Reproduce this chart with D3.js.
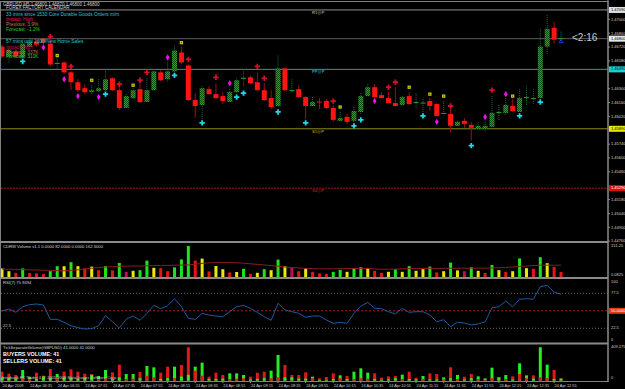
<!DOCTYPE html>
<html>
<head>
<meta charset="utf-8">
<script src="https://d3js.org/d3.v7.min.js"></script>
<style>
body { margin: 0; background: #000; }
svg { display: block; font-family: "Liberation Sans", Arial, sans-serif; }
</style>
</head>
<body>
<svg id="chart" width="625" height="389"></svg>
<script>
// GBPUSD M5, 24 Apr 2009, 06:15 .. 13:00 (82 bars)
var barOpen = [1.4672,1.4662,1.4667,1.4661,1.4672,1.4677,1.4680,1.4675,1.4654,1.4656,
  1.4646,1.4636,1.4630,1.4626,1.4627,1.4628,1.4640,1.4628,1.4610,1.4620,
  1.4629,1.4616,1.4628,1.4646,1.4639,1.4647,1.4666,1.4653,1.4618,1.4613,
  1.4629,1.4624,1.4622,1.4616,1.4626,1.4639,1.4641,1.4636,1.4628,1.4620,
  1.4612,1.4650,1.4627,1.4629,1.4621,1.4612,1.4617,1.4617,1.4610,1.4597,
  1.4601,1.4597,1.4606,1.4622,1.4631,1.4623,1.4620,1.4615,1.4613,1.4622,
  1.4615,1.4615,1.4617,1.4614,1.4604,1.4604,1.4592,1.4597,1.4593,1.4589,
  1.4589,1.4591,1.4605,1.4605,1.4612,1.4606,1.4620,1.4619,1.4620,1.4672,
  1.4691,1.4680];
var barHigh = [1.4674,1.4671,1.4669,1.4679,1.4681,1.4679,1.4681,1.4679,1.4661,1.4657,
  1.4647,1.4639,1.4634,1.4633,1.4639,1.4649,1.4641,1.4634,1.4624,1.4630,
  1.4639,1.4640,1.4649,1.4648,1.4656,1.4673,1.4672,1.4654,1.4625,1.4632,
  1.4632,1.4635,1.4626,1.4629,1.4640,1.4647,1.4643,1.4646,1.4635,1.4628,
  1.4663,1.4651,1.4639,1.4633,1.4622,1.4621,1.4620,1.4619,1.4613,1.4606,
  1.4604,1.4611,1.4625,1.4634,1.4634,1.4626,1.4626,1.4631,1.4622,1.4626,
  1.4625,1.4619,1.4620,1.4615,1.4617,1.4609,1.4597,1.4600,1.4596,1.4596,
  1.4596,1.4622,1.4613,1.4620,1.4619,1.4629,1.4632,1.4629,1.4690,1.4704,
  1.4697,1.4687];
var barLow = [1.4660,1.4656,1.4661,1.4659,1.4671,1.4672,1.4674,1.4652,1.4649,1.4644,
  1.4628,1.4626,1.4624,1.4624,1.4626,1.4627,1.4627,1.4608,1.4610,1.4619,
  1.4615,1.4616,1.4627,1.4637,1.4636,1.4646,1.4654,1.4617,1.4600,1.4599,
  1.4623,1.4619,1.4614,1.4615,1.4625,1.4631,1.4634,1.4627,1.4617,1.4609,
  1.4611,1.4627,1.4626,1.4620,1.4599,1.4611,1.4609,1.4609,1.4596,1.4596,
  1.4594,1.4596,1.4604,1.4622,1.4620,1.4620,1.4615,1.4612,1.4613,1.4613,
  1.4609,1.4606,1.4607,1.4602,1.4604,1.4586,1.4591,1.4590,1.4577,1.4588,
  1.4586,1.4590,1.4597,1.4602,1.4606,1.4606,1.4613,1.4613,1.4619,1.4665,
  1.4675,1.4678];
var barClose = [1.4662,1.4669,1.4662,1.4675,1.4677,1.4674,1.4676,1.4654,1.4656,1.4646,
  1.4636,1.4628,1.4626,1.4628,1.4630,1.4639,1.4628,1.4610,1.4622,1.4628,
  1.4616,1.4628,1.4647,1.4638,1.4647,1.4668,1.4656,1.4618,1.4612,1.4630,
  1.4624,1.4620,1.4617,1.4626,1.4638,1.4641,1.4635,1.4628,1.4618,1.4611,
  1.4650,1.4628,1.4628,1.4621,1.4612,1.4616,1.4615,1.4610,1.4598,1.4600,
  1.4596,1.4607,1.4622,1.4631,1.4621,1.4620,1.4615,1.4612,1.4621,1.4614,
  1.4616,1.4615,1.4612,1.4602,1.4605,1.4592,1.4596,1.4594,1.4590,1.4592,
  1.4592,1.4605,1.4606,1.4613,1.4607,1.4620,1.4621,1.4620,1.4672,1.4690,
  1.4679,1.4680];

// signal marks: [bar, price]
var redMarks = [[7,1.4682],[10,1.4652],[17,1.4634],[20,1.4638],[21,1.4646],[27,1.4659],[31,1.4641],
  [37,1.4652],[38,1.4640],[48,1.4617],[56,1.4631],[57,1.4636],[65,1.4612],[71,1.4628]];
var magentaMarks = [[6,1.4671],[9,1.4639],[11,1.4622],[14,1.4621],[24,1.4661],[33,1.4635],
  [54,1.4617],[63,1.4596],[70,1.4601],[73,1.4624]];
var yellowMarks = [[8,1.4663],[13,1.4638],[19,1.4633],[26,1.4676],[49,1.4611],[59,1.4631],
  [62,1.4624],[64,1.4622],[74,1.4622]];
var cyanMarks = [[3,1.4657],[15,1.4624],[25,1.4643],[29,1.4595],[34,1.4621],[35,1.4625],[40,1.4606],
  [44,1.4595],[51,1.4592],[52,1.4598],[61,1.4602],[68,1.4572],[75,1.4602],[78,1.4616]];

var pivotNames = ["R1@P", "PP@P", "S1@P", "S2@P"];
var pivotValues = [1.4709, 1.4649, 1.4589, 1.4529];
var bidPrice = 1.4680;

var priceTicks = [1.4714,1.4700,1.4686,1.4672,1.4658,1.4644,1.4630,1.4616,1.4602,
  1.4588,1.4574,1.4560,1.4546,1.4532,1.4518,1.4504,1.4490,1.4476];

// CDRW volume
var volume = [43,29,21,43,20,18,16,29,54,54,
  74,54,43,52,34,55,33,70,25,31,
  34,82,46,44,29,48,88,155,82,92,
  28,55,39,23,25,41,16,21,39,34,
  87,54,49,29,43,26,18,16,26,36,
  26,43,49,44,31,21,26,39,26,54,
  31,39,52,23,29,72,33,29,49,31,
  20,60,34,26,29,93,44,41,99,69,
  50,25];
var volColor = ("YYRGRRRGGY" + "GYRYRGRGCY" + "GGYRRGGGRY" + "RYYRYGRYGY" + "GYCRYRRRGG" +
  "YGGYRRYGYG" + "YYGRYGYCGY" + "RGYRYGYRGY" + "RR").split("");
var volMA = [40,39,38,37,36,35,34,33,32,31,
  33,36,40,44,47,50,52,54,54,55,
  55,56,57,58,58,59,60,60,64,68,
  71,72,72,72,71,69,66,63,60,57,
  54,50,47,45,43,42,41,41,41,42,
  42,43,43,43,40,39,39,39,41,42,
  43,43,43,43,43,44,44,44,44,44,
  44,45,46,48,50,53,55,57,59,59,
  59,59];

// RSI(7)
var rsi = [49.7,52.8,47.6,56.4,59.6,60.7,59.1,36.6,36.6,31.9,
  26.6,23.4,21.4,21.9,26.6,42.3,32.9,23.0,36.6,41.8,
  35.0,46.0,58.6,53.3,58.0,69.0,56.4,38.2,36.6,46.0,
  43.4,41.8,40.7,48.6,56.4,58.6,53.9,47.6,40.7,35.0,
  61.8,51.3,48.6,46.0,39.8,41.8,41.8,35.5,30.3,31.9,
  30.3,46.0,57.5,63.4,53.9,53.3,48.6,45.0,53.9,47.6,
  48.6,48.6,43.4,32.9,35.9,25.0,31.9,30.8,27.7,29.3,
  32.4,54.9,56.4,65.4,56.4,68.1,69.1,68.1,87.9,90.1,
  79.1,76.0];

// tick separate volume
var buyVol = [40,30,25,128,48,20,50,35,80,40,
  30,25,30,70,56,128,20,40,80,80,
  30,176,160,20,30,168,50,70,168,216,
  20,20,25,88,88,68,15,20,30,120,
  308,40,40,25,25,48,10,10,20,64,
  20,108,148,96,20,10,15,30,72,20,
  15,56,15,15,40,30,68,15,30,52,
  28,156,40,68,15,208,64,25,400,192,
  20,25];
var sellVol = [108,84,68,30,24,96,60,140,40,108,
  136,108,84,80,20,30,100,192,20,25,
  104,60,40,96,168,30,188,400,120,60,
  48,96,68,20,25,30,48,96,108,30,
  40,188,68,68,100,30,28,44,88,30,
  56,20,30,25,88,36,52,56,20,108,
  36,20,88,80,15,160,20,48,80,20,
  10,30,44,20,52,80,30,64,40,30,
  128,28];

var timeLabels = ["24 Apr 2009","24 Apr 06:35","24 Apr 06:55","24 Apr 07:15","24 Apr 07:35","24 Apr 07:55",
  "24 Apr 08:15","24 Apr 08:35","24 Apr 08:55","24 Apr 09:15","24 Apr 09:35","24 Apr 09:55",
  "24 Apr 10:15","24 Apr 10:35","24 Apr 10:55","24 Apr 11:15","24 Apr 11:35","24 Apr 11:55",
  "24 Apr 12:15","24 Apr 12:35","24 Apr 12:55"];
var timeLabelBars = [0,4,8,12,16,20,24,28,32,36,40,44,48,52,56,60,64,68,72,76,80];

var svg = d3.select("#chart");
svg.append("rect").attr("width", 625).attr("height", 389).attr("fill", "#000");

var x = d3.scaleLinear().domain([0, 81]).range([2, 561]);
var y = d3.scaleLinear().domain([1.4476, 1.4714]).range([240.7, 5]);
var yVol = d3.scaleLinear().domain([0, 162.5]).range([277, 244.5]);
var yRsi = d3.scaleLinear().domain([0, 100]).range([342.6, 279]);
var ySep = d3.scaleLinear().domain([0, 409.175]).range([380.7, 346.5]);
var axisX = 608;

var defs = svg.append("defs");
var pat = defs.append("pattern").attr("id", "gchk").attr("width", 2).attr("height", 2)
    .attr("patternUnits", "userSpaceOnUse");
pat.append("rect").attr("width", 2).attr("height", 2).attr("fill", "#1fa81f");
pat.append("rect").attr("width", 1).attr("height", 1).attr("fill", "#0a500a");
pat.append("rect").attr("x", 1).attr("y", 1).attr("width", 1).attr("height", 1).attr("fill", "#0a500a");

function txt(g, tx, ty, s, size, fill, weight) {
  return g.append("text").attr("x", tx).attr("y", ty).attr("dominant-baseline", "middle")
    .attr("font-size", size).attr("fill", fill).attr("font-weight", weight || "normal").text(s);
}

// ---- main chart lines
var main = svg.append("g");
var pivotColors = ["#909090", "#1fa0a8", "#8c8c1c", "#a01818"];
pivotValues.forEach(function (p, k) {
  main.append("line").attr("x1", 1).attr("x2", axisX).attr("y1", y(p)).attr("y2", y(p))
    .attr("stroke", pivotColors[k]).attr("stroke-width", 1)
    .attr("stroke-dasharray", k == 3 ? "2,1" : null);
  txt(main, 312, y(p) + 3, pivotNames[k], 4.2, pivotColors[k], "bold");
});
main.append("line").attr("x1", 1).attr("x2", axisX).attr("y1", y(bidPrice)).attr("y2", y(bidPrice))
  .attr("stroke", "#5a5a5a").attr("stroke-width", 1);

// ---- candles
var idx = d3.range(barOpen.length);
function isDoji(i) { return Math.abs(barClose[i] - barOpen[i]) <= 0.0002; }
var candles = main.append("g").selectAll("g").data(idx).enter().append("g");
candles.append("line")
  .attr("x1", function (i) { return x(i); }).attr("x2", function (i) { return x(i); })
  .attr("y1", function (i) { return y(barHigh[i]); }).attr("y2", function (i) { return y(barLow[i]); })
  .attr("stroke", function (i) { return barClose[i] >= barOpen[i] ? "#1d6b44" : "#a01010"; })
  .attr("stroke-dasharray", function (i) { return barClose[i] >= barOpen[i] ? "1,1" : null; });
candles.append("rect")
  .attr("x", function (i) { return x(i) - 2.5; }).attr("width", 5)
  .attr("y", function (i) {
    return isDoji(i) ? y((barOpen[i] + barClose[i]) / 2) - 0.5 : y(Math.max(barOpen[i], barClose[i]));
  })
  .attr("height", function (i) {
    return isDoji(i) ? 1 : Math.abs(y(barOpen[i]) - y(barClose[i]));
  })
  .attr("fill", function (i) {
    if (isDoji(i)) return barClose[i] >= barOpen[i] ? "#2aa02a" : "#e01010";
    return barClose[i] > barOpen[i] ? "url(#gchk)" : "#ff1414";
  });

// ---- signal marks
function marks(list, type, size, fill) {
  main.append("g").selectAll("path").data(list).enter().append("path")
    .attr("transform", function (d) { return "translate(" + x(d[0]) + "," + y(d[1]) + ")"; })
    .attr("d", d3.symbol().type(type).size(size))
    .attr("fill", fill);
}
marks(redMarks, d3.symbolCross, 16, "#d0102c");
marks(magentaMarks, d3.symbolDiamond, 12, "#f010f0");
marks(yellowMarks, d3.symbolSquare, 11, "#c8c810");
marks(cyanMarks, d3.symbolCross, 16, "#20d8e8");
main.append("g").selectAll("rect").data(yellowMarks).enter().append("rect")
  .attr("x", function (d) { return x(d[0]) - 0.5; }).attr("y", function (d) { return y(d[1]) - 0.5; })
  .attr("width", 1).attr("height", 1).attr("fill", "#3a3a00");

// blue mark on current bar and bar timer
main.append("path")
  .attr("d", "M" + (x(81) - 2) + "," + (y(bidPrice) + 4) + " l2,-3 l2,3 z")
  .attr("fill", "none").attr("stroke", "#2a44ff").attr("stroke-width", 0.8);
txt(main, 572, y(bidPrice), "<2:16", 10, "#c8c8c8");

// ---- texts top left
txt(svg, 3, 4.5, "GBPUSD,M5  1.46800 1.46870 1.46800 1.46800", 4.5, "#d0d0d0");
txt(svg, 6, 8, "FOREX FACTORY CALENDAR", 4.5, "#d8d8d8");
var newsLines = [
  ["33 mins since 1530 Core Durable Goods Orders m/m", "#1ec8d8", 15],
  ["Impact: High", "#e0106a", 20],
  ["Previous: 3.9%", "#d07838", 25],
  ["Forecast: -1.2%", "#28d028", 30],
  ["57 mins until 1600 New Home Sales", "#1ec8d8", 42],
  ["Impact: High", "#c0105a", 47.5],
  ["Previous: 337K", "#b07848", 52.5],
  ["Forecast: 310K", "#28d028", 57]
];
newsLines.forEach(function (n) { txt(svg, 6, n[2], n[0], 4.8, n[1]); });

// ---- CDRW volume panel
var vcol = { G: "#22e022", Y: "#e8e810", R: "#e01818", C: "#c0104a" };
svg.append("g").selectAll("rect").data(idx).enter().append("rect")
  .attr("x", function (i) { return x(i) - 1.5; }).attr("width", 3)
  .attr("y", function (i) { return yVol(volume[i]); })
  .attr("height", function (i) { return yVol(0) - yVol(volume[i]); })
  .attr("fill", function (i) { return vcol[volColor[i]]; });
svg.append("path").datum(idx)
  .attr("d", d3.line().x(function (i) { return x(i); }).y(function (i) { return yVol(volMA[i]); }))
  .attr("fill", "none").attr("stroke", "#8e1c1c").attr("stroke-width", 1);
txt(svg, 3, 246.5, "CDRW Volume v1.1 0.0000 82.0000 0.0000 162.5000", 4.2, "#d0d0d0");

// ---- RSI panel
[77.5, 22.5].forEach(function (lv) {
  svg.append("line").attr("x1", 1).attr("x2", axisX).attr("y1", yRsi(lv)).attr("y2", yRsi(lv))
    .attr("stroke", "#6a6a6a").attr("stroke-dasharray", "1,2");
});
svg.append("line").attr("x1", 1).attr("x2", axisX).attr("y1", yRsi(50)).attr("y2", yRsi(50))
  .attr("stroke", "#a82010").attr("stroke-dasharray", "2,2");
svg.append("path").datum(idx)
  .attr("d", d3.line().x(function (i) { return x(i); }).y(function (i) { return yRsi(rsi[i]); }))
  .attr("fill", "none").attr("stroke", "#1f5a9e").attr("stroke-width", 1);
txt(svg, 3, 283, "RSI(7) 75.9694", 4.2, "#d0d0d0");
txt(svg, 3, yRsi(22.5) - 2, "22.5", 4.2, "#c0c0c0");

// ---- tick separate volume panel
var sepBars = [];
idx.forEach(function (i) {
  var b = { i: i, v: buyVol[i], c: "#22ee22" }, s = { i: i, v: sellVol[i], c: "#e01a1a" };
  if (buyVol[i] >= sellVol[i]) { sepBars.push(b, s); } else { sepBars.push(s, b); }
});
svg.append("g").selectAll("rect").data(sepBars).enter().append("rect")
  .attr("x", function (d) { return x(d.i) - 1.5; }).attr("width", 3)
  .attr("y", function (d) { return ySep(d.v); })
  .attr("height", function (d) { return ySep(0) - ySep(d.v); })
  .attr("fill", function (d) { return d.c; });
txt(svg, 3, 348, "TickSeparateVolume(GBPUSD) 41.0000 41.0000", 4.2, "#d0d0d0");
txt(svg, 3, 354.8, "BUYERS VOLUME: 41", 5.4, "#ffffff", "bold");
txt(svg, 3, 361.2, "SELLERS VOLUME: 41", 5.4, "#ffffff", "bold");
txt(svg, 2, 377.5, "Interbank FX Trader 4, \u00a9 2001-2009 MetaQuotes Software Corp.", 4, "#c8c8c8");

// ---- frames and separators
svg.append("rect").attr("x", 0.5).attr("y", 1.5).attr("width", axisX - 0.5).attr("height", 380)
  .attr("fill", "none").attr("stroke", "#808080").attr("stroke-width", 1);
[242, 278, 343.5].forEach(function (sy) {
  svg.append("line").attr("x1", 0).attr("x2", axisX).attr("y1", sy).attr("y2", sy)
    .attr("stroke", "#8a8a8a").attr("stroke-width", 2);
});

// ---- price axis (labels hidden where a coloured price tag sits)
var tagPrices = pivotValues.concat([bidPrice]);
var shownTicks = priceTicks.filter(function (t) {
  return tagPrices.every(function (p) { return Math.abs(y(t) - y(p)) > 5; });
});
var pAxis = svg.append("g").attr("transform", "translate(" + axisX + ",0)")
  .call(d3.axisRight(y).tickValues(shownTicks).tickFormat(d3.format(".5f")).tickSize(2));
pAxis.select(".domain").remove();
pAxis.selectAll("line").attr("stroke", "#909090");
pAxis.selectAll("text").attr("fill", "#d0d0d0").attr("font-size", 4).attr("x", 3)
  .attr("font-family", "Liberation Sans, Arial, sans-serif");

function tag(py, s, bg, fg) {
  svg.append("rect").attr("x", 609).attr("y", py - 3).attr("width", 16).attr("height", 6).attr("fill", bg);
  txt(svg, 611, py, s, 4, fg);
}
tag(y(pivotValues[0]), "1.47090", "#e0e0e0", "#000");
tag(y(bidPrice), "1.46800", "#e8e8e8", "#000");
tag(y(pivotValues[1]), "1.46490", "#20d0d8", "#000");
tag(y(pivotValues[2]), "1.45890", "#e8e800", "#000");
tag(y(pivotValues[3]), "1.45290", "#e01010", "#fff");

txt(svg, 611, 246, "151.25", 4, "#d0d0d0");
txt(svg, 611, 274.5, "0.0825", 4, "#d0d0d0");
txt(svg, 611, 282, "100", 4, "#d0d0d0");
txt(svg, 611, yRsi(77.5), "77.5", 4, "#d0d0d0");
tag(yRsi(50), "50.0000", "#e03a10", "#fff");
txt(svg, 611, yRsi(22.5), "22.5", 4, "#d0d0d0");
txt(svg, 611, 339.5, "0", 4, "#d0d0d0");
txt(svg, 611, 347, "409.175", 4, "#d0d0d0");
txt(svg, 611, 378, "0", 4, "#d0d0d0");
svg.append("line").attr("x1", axisX).attr("x2", axisX).attr("y1", 0).attr("y2", 382)
  .attr("stroke", "#909090");

// ---- time axis
var tg = svg.append("g");
tg.selectAll("line").data(timeLabelBars).enter().append("line")
  .attr("x1", function (b) { return x(b); }).attr("x2", function (b) { return x(b); })
  .attr("y1", 381.5).attr("y2", 383).attr("stroke", "#909090");
tg.selectAll("text").data(timeLabelBars).enter().append("text")
  .attr("x", function (b) { return x(b) + 0.5; }).attr("y", 385.5)
  .attr("dominant-baseline", "middle").attr("font-size", 3.9).attr("fill", "#d0d0d0")
  .text(function (b, k) { return timeLabels[k]; });
</script>
</body>
</html>
